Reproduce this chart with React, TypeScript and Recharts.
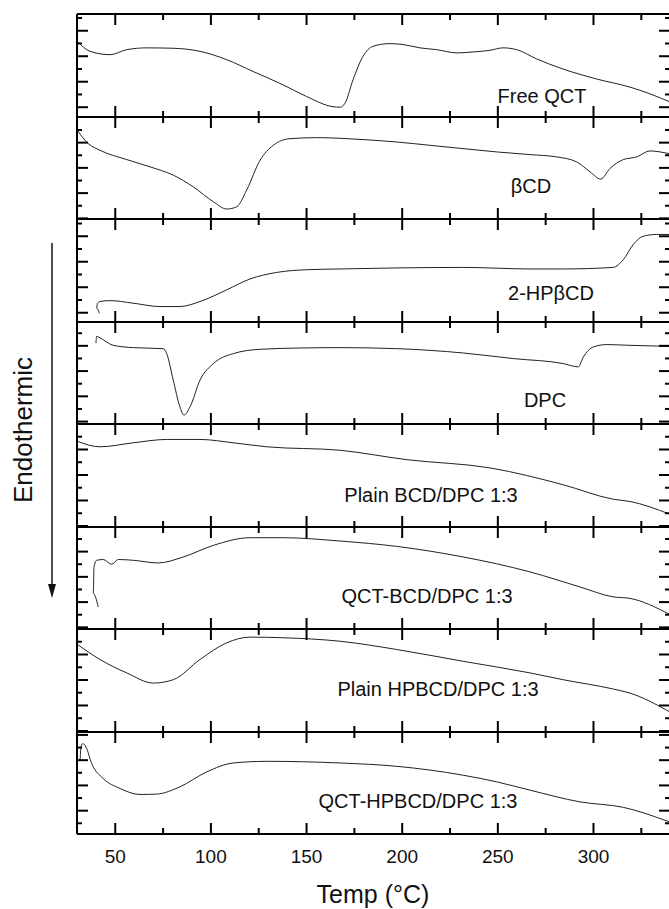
import React from 'react';
import { LineChart, Line, XAxis, YAxis } from 'recharts';

type Pt = [number, number];

// [temperature °C, heat flow (arb. units, 0 = panel bottom)]
const freeQct: Pt[] = [
  [30.2, 5.88], [36.8, 5.1], [47.3, 4.84], [56, 5.23], [66.4, 5.37], [80.2, 5.34], [94.3, 5.1],
  [108.3, 4.45], [122, 3.54], [137.7, 2.5], [150, 1.59], [163.8, 0.8], [167.5, 0.76], [170.1, 1.07],
  [174.3, 2.89], [179.5, 4.71], [184.7, 5.49], [193.6, 5.7], [200.4, 5.63], [209.3, 5.37], [218, 5.23],
  [228.5, 4.98], [237, 5.05], [245.9, 5.18], [252.7, 5.37], [259.9, 5.23], [270.3, 4.51], [284, 3.73],
  [301.7, 2.95], [319.1, 2.32], [329.5, 1.8], [339.5, 1.2],
];
const betaCd: Pt[] = [
  [30.2, 6.95], [35.9, 5.91], [42, 5.39], [56, 4.66], [68.2, 4.09], [80.3, 3.44], [90.8, 2.52],
  [101.3, 1.35], [108.3, 0.78], [113.5, 0.96], [118.7, 2.27], [125.7, 4.61], [132.6, 5.78], [141.3, 6.3],
  [155.3, 6.38], [167.5, 6.33], [179.5, 6.23], [197.1, 6.04], [214.5, 5.78], [231.8, 5.52], [249.4, 5.26],
  [266.8, 5.05], [280.8, 4.87], [291.2, 4.48], [298.2, 3.7], [303.8, 3.13], [308.6, 3.96], [315.6, 4.66],
  [322.6, 4.87], [329.5, 5.34], [334.8, 5.26], [339.5, 5.13],
];
const hpBetaCd: Pt[] = [
  [41.7, 0.68], [40.3, 1.07], [40.6, 1.42], [42, 1.59], [47.3, 1.66], [59.4, 1.46], [73.4, 1.2],
  [83.8, 1.2], [94.3, 1.59], [108.3, 2.5], [120.4, 3.34], [134.4, 3.85], [150.1, 4.06], [167.5, 4.12],
  [197.1, 4.2], [231.9, 4.24], [266.8, 4.12], [284.2, 4.12], [310.3, 4.24], [315.6, 4.84], [320.8, 6.02],
  [326, 6.66], [333, 6.8], [339.5, 6.8],
];
const dpc: Pt[] = [
  [39.9, 6.35], [40.3, 6.88], [41.5, 6.8], [49, 6.17], [59.4, 5.99], [75.1, 5.91], [76.9, 5.52],
  [80.3, 3.44], [83.8, 1.35], [85.9, 0.7], [89.1, 1.35], [94.3, 3.44], [101.3, 4.74], [111.7, 5.52],
  [125.7, 5.86], [146.6, 5.96], [167.5, 5.99], [197.1, 5.91], [231.9, 5.57], [258.1, 5.13], [284.2, 4.74],
  [292, 4.48], [294.7, 5.26], [299.9, 6.04], [306.9, 6.23], [319.1, 6.17], [339.5, 6.09],
];
const plainBcdDpc: Pt[] = [
  [30.2, 6.66], [42, 6.23], [59.4, 6.54], [76.9, 6.8], [94.3, 6.8], [111.7, 6.54], [129.2, 6.23],
  [167.5, 5.96], [202.4, 5.23], [245.9, 4.59], [284.2, 3.28], [310.3, 2.16], [319.1, 1.98], [339.5, 1.02],
];
const qctBcdDpc: Pt[] = [
  [41.1, 1.74], [38.5, 2.79], [38.9, 4.87], [40.3, 5.39], [43.7, 5.45], [48.1, 5.08], [51.6, 5.45],
  [59.4, 5.39], [72.5, 5.18], [85.6, 5.65], [101.3, 6.56], [120.4, 7.16], [137.8, 7.16], [167.5, 6.9],
  [197.1, 6.48], [231.9, 5.65], [266.8, 4.48], [292.9, 3.3], [310.3, 2.52], [319.1, 2.4], [339.5, 1.17],
];
const plainHpbcdDpc: Pt[] = [
  [30.2, 6.8], [42, 5.63], [56, 4.59], [69.9, 3.8], [80.3, 4.06], [94.3, 5.63], [108.3, 6.93],
  [120.4, 7.37], [137.8, 7.32], [167.5, 7.05], [197.1, 6.41], [231.9, 5.49], [266.8, 4.59], [284.2, 4.06],
  [310.3, 3.34], [319.1, 3.02], [339.5, 1.59],
];
const qctHpbcdDpc: Pt[] = [
  [31.6, 5.78], [32.2, 6.9], [33.1, 7.09], [34.7, 6.82], [37.7, 5.52], [43.7, 4.35], [52.5, 3.57],
  [62.9, 3.1], [71.7, 3.13], [83.8, 3.7], [97.8, 4.87], [111.7, 5.57], [129.2, 5.7], [167.5, 5.57],
  [197.1, 5.31], [231.9, 4.61], [249.4, 4.09], [266.8, 3.44], [292.9, 2.52], [315.6, 2.09], [339.5, 0.96],
];

const sampleNames = [
  'Free QCT', 'βCD', '2-HPβCD', 'DPC',
  'Plain BCD/DPC 1:3', 'QCT-BCD/DPC 1:3', 'Plain HPBCD/DPC 1:3', 'QCT-HPBCD/DPC 1:3',
];
const curves = [freeQct, betaCd, hpBetaCd, dpc, plainBcdDpc, qctBcdDpc, plainHpbcdDpc, qctHpbcdDpc];

const xTicks = [50, 75, 100, 125, 150, 175, 200, 225, 250, 275, 300, 325];
const yTickTop = [7.69, 6.98, 7.65, 7.12, 7.01, 7.06, 8.0, 7.77];
const yTopIsMajor = [false, false, false, false, false, false, true, true];
const Y_STEP = 0.99;

// layout (px)
const panelEdges = [14, 117, 219, 322, 424, 527, 629, 732, 834];
const labelPos: Pt[] = [
  [542, 103], [531, 193], [551, 300], [545, 407], [431, 502], [427, 603], [438, 696], [418, 808],
];
const PLOT_LEFT = 77;
const PLOT_W = 593;
const PAD = 2; // margin (1) + axis size (1)
const FONT = '"Liberation Sans", Arial, sans-serif';
const axisStyle = { stroke: '#000', strokeWidth: 2 };

const XTick = (p: any) => {
  const { x, y, payload, side, withLabel } = p;
  const major = payload.value % 50 === 0;
  const len = major ? 11 : 6;
  const dir = side === 'top' ? 1 : -1;
  return (
    <g>
      <line x1={x} y1={y} x2={x} y2={y + dir * len} stroke="#000" strokeWidth={2} />
      {withLabel && major && (
        <text x={x} y={y + 29} textAnchor="middle" fontSize={19} fontFamily={FONT} fill="#111">
          {payload.value}
        </text>
      )}
    </g>
  );
};

const YTick = (p: any) => {
  const { x, y, payload, side, top, topMajor } = p;
  const k = Math.round((top - payload.value) / Y_STEP);
  const major = (k % 2 === 0) === topMajor;
  const len = major ? 11 : 5;
  const dir = side === 'left' ? 1 : -1;
  return <line x1={x} y1={y} x2={x + dir * len} y2={y} stroke="#000" strokeWidth={2} />;
};

function Panel({ idx }: { idx: number }) {
  const top = panelEdges[idx];
  const h = panelEdges[idx + 1] - top;
  const last = idx === curves.length - 1;
  const bottomPad = last ? 42 : PAD;
  const data = curves[idx].map(([t, q]) => ({ t, q }));
  const yt = Array.from({ length: 9 }, (_, k) => +(yTickTop[idx] - Y_STEP * k).toFixed(3)).filter((v) => v >= 0);
  const tp = yTickTop[idx];
  const tm = yTopIsMajor[idx];

  return (
    <div style={{ position: 'absolute', left: PLOT_LEFT - PAD, top: top - PAD }}>
      <LineChart
        width={PLOT_W + 2 * PAD}
        height={h + PAD + bottomPad}
        data={data}
        margin={{ top: PAD - 1, right: PAD - 1, bottom: bottomPad - 1, left: PAD - 1 }}
      >
        <XAxis
          xAxisId="b" dataKey="t" type="number" domain={[30, 340]} allowDataOverflow
          ticks={xTicks} interval={0} orientation="bottom" height={1} tickSize={0} tickMargin={0}
          tickLine={false} axisLine={axisStyle}
          tick={(p: any) => <XTick {...p} side="bottom" withLabel={last} />}
        />
        <XAxis
          xAxisId="t" dataKey="t" type="number" domain={[30, 340]} allowDataOverflow
          ticks={xTicks} interval={0} orientation="top" height={1} tickSize={0} tickMargin={0}
          tickLine={false} axisLine={axisStyle}
          tick={(p: any) => <XTick {...p} side="top" withLabel={false} />}
        />
        <YAxis
          yAxisId="l" type="number" domain={[0, 8]} allowDataOverflow ticks={yt} interval={0}
          orientation="left" width={1} tickSize={0} tickMargin={0} tickLine={false} axisLine={axisStyle}
          tick={(p: any) => <YTick {...p} side="left" top={tp} topMajor={tm} />}
        />
        <YAxis
          yAxisId="r" type="number" domain={[0, 8]} allowDataOverflow ticks={yt} interval={0}
          orientation="right" width={1} tickSize={0} tickMargin={0} tickLine={false} axisLine={axisStyle}
          tick={(p: any) => <YTick {...p} side="right" top={tp} topMajor={tm} />}
        />
        <Line
          xAxisId="b" yAxisId="l" dataKey="q" type="monotone" stroke="#222" strokeWidth={1}
          dot={false} isAnimationActive={false}
        />
      </LineChart>
    </div>
  );
}

export default function App() {
  return (
    <div style={{ position: 'absolute', left: 0, top: 0, width: 669, height: 909, overflow: 'hidden', background: '#fff' }}>
      {curves.map((_, i) => (
        <Panel key={i} idx={i} />
      ))}
      <svg width={669} height={909} style={{ position: 'absolute', left: 0, top: 0, pointerEvents: 'none' }}>
        {sampleNames.map((n, i) => (
          <text key={n} x={labelPos[i][0]} y={labelPos[i][1]} textAnchor="middle" fontSize={20} fontFamily={FONT} fill="#111">
            {n}
          </text>
        ))}
        <text x={373} y={903} textAnchor="middle" fontSize={25} fontFamily={FONT} fill="#111">
          Temp (°C)
        </text>
        <text transform="translate(32,430) rotate(-90)" textAnchor="middle" fontSize={26} fontFamily={FONT} fill="#111">
          Endothermic
        </text>
        <line x1={52} y1={243} x2={52} y2={586} stroke="#111" strokeWidth={1.5} />
        <polygon points="48,584 56,584 52,598" fill="#111" />
      </svg>
    </div>
  );
}
